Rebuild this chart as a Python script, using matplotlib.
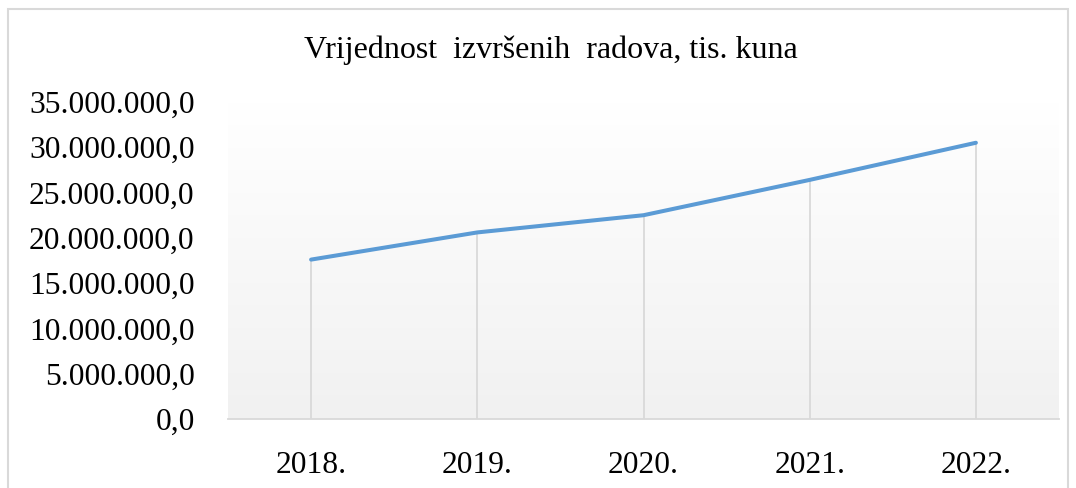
import numpy as np
import matplotlib.pyplot as plt
from matplotlib.patches import Rectangle
from matplotlib.ticker import FuncFormatter

years = ['2018.', '2019.', '2020.', '2021.', '2022.']
values = [17600000, 20600000, 22500000, 26400000, 30500000]
y_ticks = [0, 5000000, 10000000, 15000000, 20000000, 25000000, 30000000, 35000000]

plt.rcParams['font.family'] = ['Liberation Serif', 'DejaVu Serif']

LINE_COLOR = '#5b9bd5'
GRID_COLOR = '#d9d9d9'


def hr_format(v, pos=None):
    s = f'{v:,.1f}'
    return s.replace(',', 'X').replace('.', ',').replace('X', '.')


fig = plt.figure(figsize=(10.76, 4.88), dpi=100)
fig.patches.append(Rectangle((8 / 1076, -0.05), 1060 / 1076, 1 - 9 / 488 + 0.05,
                             transform=fig.transFigure, fill=False,
                             edgecolor='#d9d9d9', linewidth=1.5))

ax = fig.add_axes([228 / 1076, 69 / 488, 831 / 1076, 317 / 488])
x = np.arange(len(years))

# gradient background of the plot area
grad = np.linspace(1.0, 0.945, 256).reshape(-1, 1) ** 1.0
ax.imshow(np.dstack([grad, grad, grad]), aspect='auto',
          extent=[-0.5, len(years) - 0.5, 0, 35000000], zorder=0)

ax.vlines(x, 0, values, color=GRID_COLOR, linewidth=1.3, zorder=1)
ax.plot(x, values, color=LINE_COLOR, linewidth=2.9, solid_capstyle='round', zorder=2)

ax.set_xlim(-0.5, len(years) - 0.5)
ax.set_ylim(0, 35000000)
ax.set_xticks(x)
ax.set_xticklabels(years)
ax.set_yticks(y_ticks)
ax.yaxis.set_major_formatter(FuncFormatter(hr_format))
ax.tick_params(axis='both', length=0, labelsize=22.7, colors='black')
ax.tick_params(axis='y', pad=24)
ax.tick_params(axis='x', pad=23)

for side in ['top', 'right', 'left']:
    ax.spines[side].set_visible(False)
ax.spines['bottom'].set_color(GRID_COLOR)
ax.spines['bottom'].set_linewidth(1.3)

fig.text(551 / 1076, 1 - 50 / 488, 'Vrijednost  izvršenih  radova, tis. kuna',
         ha='center', va='center', fontsize=23)

fig.savefig('out.png', dpi=100)
